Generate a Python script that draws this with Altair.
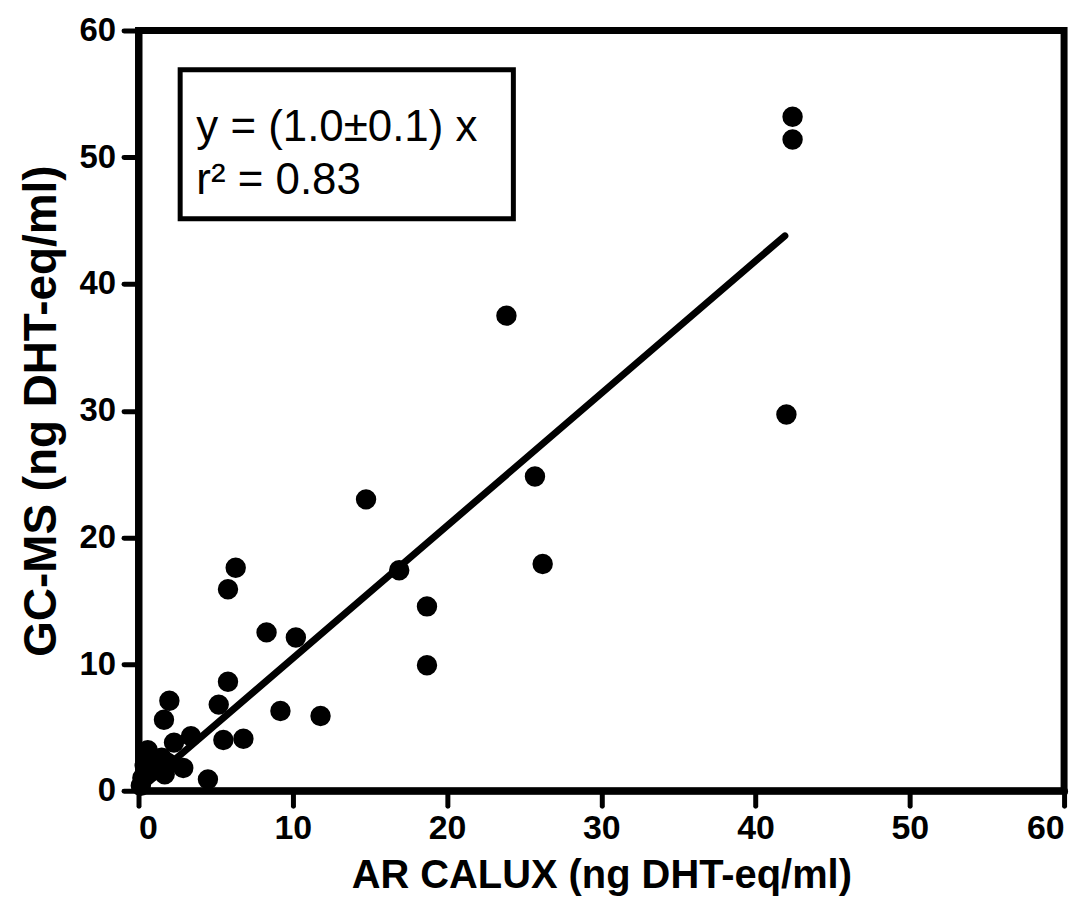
import altair as alt
import pandas as pd

# Data
ar_calux = [42.4, 42.4, 42.0, 23.85, 25.7, 26.2, 14.75, 16.9, 18.7, 18.7,
            6.3, 5.8, 8.3, 10.2, 5.8, 2.0, 5.2, 9.2, 11.8, 1.65,
            3.4, 5.5, 6.8, 2.3, 0.6, 2.9, 4.5, 1.5, 1.9, 1.0,
            1.7, 0.15, 0.4, 0.25, 1.1]
gc_ms = [53.2, 51.4, 29.7, 37.5, 24.8, 17.9, 23.0, 17.4, 14.55, 9.9,
         17.6, 15.9, 12.5, 12.1, 8.6, 7.1, 6.8, 6.3, 5.9, 5.6,
         4.3, 4.0, 4.1, 3.8, 3.2, 1.8, 0.9, 2.6, 2.2, 1.6,
         1.3, 0.4, 2.0, 1.0, 2.1]

fit_x = [0.0, 41.9]
fit_y = [0.0, 43.8]

box_x = [2.7]
box_x2 = [24.3]
box_y = [56.9]
box_y2 = [45.15]

label_text = ["y = (1.0\u00b10.1) x", "r\u00b2 = 0.83"]
label_x = [3.75, 3.75]
label_y = [51.25, 47.1]

tick_values = [0, 10, 20, 30, 40, 50, 60]

pts = pd.DataFrame({"x": ar_calux, "y": gc_ms})
fit = pd.DataFrame({"x": fit_x, "y": fit_y})
box = pd.DataFrame({"x": box_x, "x2": box_x2, "y": box_y, "y2": box_y2})
labels = pd.DataFrame({"x": label_x, "y": label_y, "t": label_text})

xscale = alt.Scale(domain=[0, 60], nice=False, zero=False)
yscale = alt.Scale(domain=[0, 60], nice=False, zero=False)

xaxis = alt.Axis(title="AR CALUX (ng DHT-eq/ml)", values=tick_values, grid=False,
                 labelFontSize=34, titleFontSize=40, labelPadding=6, titlePadding=10)
yaxis = alt.Axis(title="GC-MS (ng DHT-eq/ml)", values=tick_values, grid=False,
                 labelFontSize=33, titleFontSize=46, labelPadding=8, titlePadding=14)

points = alt.Chart(pts).mark_circle(size=420, color="black", opacity=1).encode(
    x=alt.X("x:Q", scale=xscale, axis=xaxis),
    y=alt.Y("y:Q", scale=yscale, axis=yaxis),
)

line = alt.Chart(fit).mark_line(color="black", strokeWidth=7, strokeCap="round").encode(
    x=alt.X("x:Q", scale=xscale, axis=xaxis),
    y=alt.Y("y:Q", scale=yscale, axis=yaxis),
)

rect = alt.Chart(box).mark_rect(fill="white", stroke="black", strokeWidth=5).encode(
    x=alt.X("x:Q", scale=xscale, axis=xaxis),
    x2="x2:Q",
    y=alt.Y("y:Q", scale=yscale, axis=yaxis),
    y2="y2:Q",
)

text = alt.Chart(labels).mark_text(align="left", baseline="alphabetic", fontSize=44,
                                   font="Liberation Sans", color="black").encode(
    x=alt.X("x:Q", scale=xscale, axis=xaxis),
    y=alt.Y("y:Q", scale=yscale, axis=yaxis),
    text="t:N",
)

chart = alt.layer(points, line, rect, text).properties(
    width=929,
    height=763,
    autosize=alt.AutoSizeParams(type="none"),
    padding={"left": 131, "top": 21, "right": 20, "bottom": 110},
    background="white",
).configure_view(
    stroke="black", strokeWidth=7
).configure_axis(
    domainColor="black", domainWidth=7, domainCap="round",
    tickColor="black", tickWidth=5, tickSize=15, tickCap="round",
    labelFont="Liberation Sans", labelFontWeight="bold", labelColor="black",
    titleFont="Liberation Sans", titleFontWeight="bold", titleColor="black",
)

chart.save("out.html", embed_options={"renderer": "svg", "actions": False})
